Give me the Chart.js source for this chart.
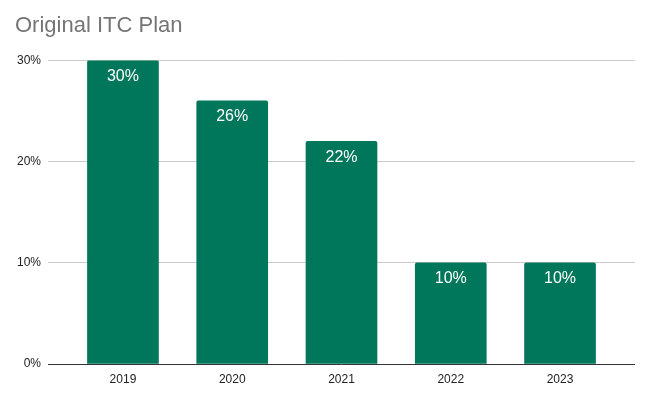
<!DOCTYPE html>
<html>
<head>
<meta charset="utf-8">
<script src="https://cdn.jsdelivr.net/npm/chart.js@4"></script>
<style>
  body { margin: 0; background: #fff; }
</style>
</head>
<body>
<canvas id="itcChart" width="648" height="398"></canvas>
<script>
const years = ['2019', '2020', '2021', '2022', '2023'];
const itcRates = [30, 26, 22, 10, 10];
const yTicks = [0, 10, 20, 30];

const barColor = '#00765a';

// draws the % value inside the top of each bar
const barLabels = {
  id: 'barLabels',
  afterDatasetsDraw(chart) {
    const ctx = chart.ctx;
    const meta = chart.getDatasetMeta(0);
    ctx.save();
    ctx.fillStyle = '#ffffff';
    ctx.font = '16px Arial, "Liberation Sans", sans-serif';
    ctx.textAlign = 'center';
    ctx.textBaseline = 'middle';
    meta.data.forEach((bar, i) => {
      ctx.fillText(itcRates[i] + '%', bar.x, bar.y + 16);
    });
    ctx.restore();
  }
};

new Chart(document.getElementById('itcChart'), {
  type: 'bar',
  data: {
    datasets: [{
      data: itcRates.map((v, i) => ({ x: i, y: v })),
      backgroundColor: barColor,
      borderRadius: 2,
      borderSkipped: 'bottom',
      barThickness: 71
    }]
  },
  options: {
    responsive: false,
    animation: false,
    layout: { padding: { left: 15, right: 13, top: 0, bottom: 0 } },
    plugins: {
      legend: { display: false },
      tooltip: { enabled: false },
      title: {
        display: true,
        text: 'Original ITC Plan',
        align: 'start',
        color: '#757575',
        font: { family: 'Arial, "Liberation Sans", sans-serif', size: 22, weight: 'normal' },
        padding: { top: 13, bottom: 21 }
      }
    },
    scales: {
      x: {
        type: 'linear',
        offset: false,
        min: -0.686,
        max: 4.686,
        grid: { display: false },
        border: { display: false },
        afterBuildTicks(scale) {
          scale.ticks = years.map((y, i) => ({ value: i }));
        },
        afterFit(scale) { scale.height = 34; },
        ticks: {
          color: '#222',
          font: { family: 'Arial, "Liberation Sans", sans-serif', size: 12 },
          padding: 0,
          maxRotation: 0,
          callback: v => years[v]
        }
      },
      y: {
        min: 0,
        max: 30,
        afterBuildTicks(scale) {
          scale.ticks = yTicks.map(v => ({ value: v }));
        },
        afterFit(scale) { scale.width = 33; },
        border: { display: false },
        grid: {
          drawTicks: false,
          color: c => c.tick && c.tick.value === 0 ? '#333333' : '#cccccc',
          lineWidth: 1
        },
        ticks: {
          color: '#222',
          font: { family: 'Arial, "Liberation Sans", sans-serif', size: 12 },
          padding: 7,
          callback: v => v + '%'
        }
      }
    }
  },
  plugins: [barLabels]
});
</script>
</body>
</html>
